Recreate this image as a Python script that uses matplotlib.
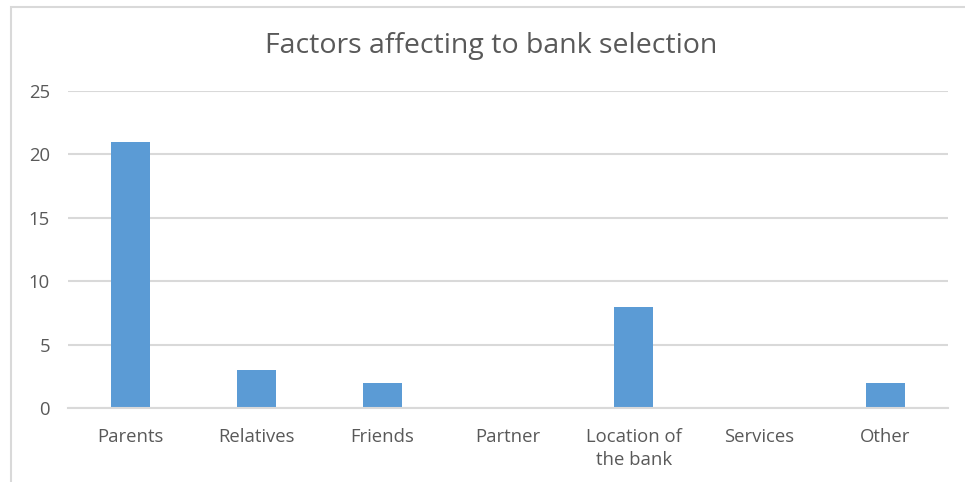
import matplotlib
matplotlib.use('Agg')
import matplotlib.pyplot as plt
from matplotlib.patches import Rectangle

factors = ['Parents', 'Relatives', 'Friends', 'Partner',
           'Location of\nthe bank', 'Services', 'Other']
counts = [21, 3, 2, 0, 8, 0, 2]
y_ticks = [0, 5, 10, 15, 20, 25]

BAR_COLOR = '#5b9bd5'
TEXT_COLOR = '#595959'
GRID_COLOR = '#d9d9d9'

plt.rcParams['font.family'] = ['Open Sans', 'DejaVu Sans']

fig = plt.figure(figsize=(9.65, 4.82), dpi=100)
fig.patch.set_facecolor('white')

# light frame around the chart area, running off the right and bottom edges
fig.patches.append(Rectangle((11 / 965, -0.05), 1.1, 1 - 7 / 482 + 0.05,
                             transform=fig.transFigure, fill=False,
                             edgecolor='#d9d9d9', linewidth=1.5))

ax = fig.add_axes([68 / 965, 1 - 408 / 482, 880 / 965, 317 / 482])
x = range(len(factors))
ax.bar(x, counts, width=0.31, color=BAR_COLOR, zorder=3)

ax.set_xlim(-0.5, len(factors) - 0.5)
ax.set_ylim(0, 25)
ax.set_yticks(y_ticks)
ax.set_xticks(list(x))
ax.set_xticklabels(factors, fontsize=13.3, color=TEXT_COLOR, linespacing=1.35)
ax.tick_params(axis='y', labelsize=13.3, labelcolor=TEXT_COLOR, length=0, pad=13)
ax.tick_params(axis='x', length=0, pad=14.5)

ax.yaxis.grid(True, color=GRID_COLOR, linewidth=1.5, zorder=0)
for side in ('top', 'right', 'left'):
    ax.spines[side].set_visible(False)
ax.spines['bottom'].set_color(GRID_COLOR)
ax.spines['bottom'].set_linewidth(1.5)
ax.spines['bottom'].set_zorder(4)

fig.text(491 / 965, 1 - 46 / 482, 'Factors affecting to bank selection',
         ha='center', va='center', fontsize=20.5, color=TEXT_COLOR)

fig.savefig('out.png', dpi=100)
